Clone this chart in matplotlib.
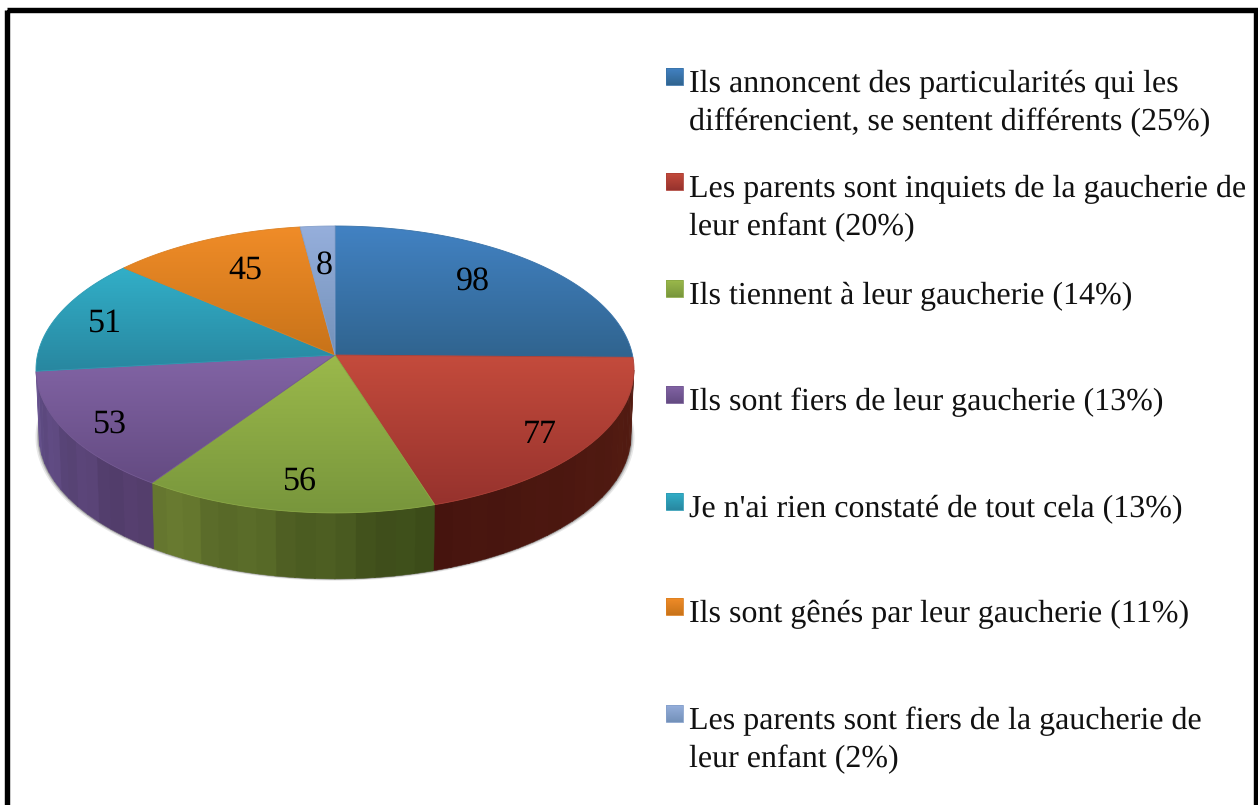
import numpy as np
import matplotlib
matplotlib.use("Agg")
import matplotlib.pyplot as plt
from matplotlib.patches import Polygon, Rectangle

plt.rcParams["text.hinting"] = "none"
plt.rcParams["text.hinting_factor"] = 1

# Valeurs du graphique
values = [98, 77, 56, 53, 51, 45, 8]
legend_labels = [
    "Ils annoncent des particularités qui les\ndifférencient, se sentent différents (25%)",
    "Les parents sont inquiets de la gaucherie de\nleur enfant (20%)",
    "Ils tiennent à leur gaucherie (14%)",
    "Ils sont fiers de leur gaucherie (13%)",
    "Je n'ai rien constaté de tout cela (13%)",
    "Ils sont gênés par leur gaucherie (11%)",
    "Les parents sont fiers de la gaucherie de\nleur enfant (2%)",
]
top_light = ["#4282c3", "#c44b3c", "#9bb94b", "#8264a5", "#32afc8", "#f08c28", "#96afdc"]
top_dark = ["#30648f", "#96322d", "#78963c", "#644b82", "#2887a0", "#c87319", "#7391b9"]
side_light = ["#30648f", "#46140e", "#6b7d32", "#64508c", "#2887a0", "#c87319", "#7391b9"]
side_dark = ["#30648f", "#541c12", "#3a4a18", "#523c69", "#2887a0", "#c87319", "#7391b9"]

# Ajustements des etiquettes (rayon relatif, decalage en degres)
label_radius = [0.755, 0.83, 0.805, 0.85, 0.835, 0.735, 0.70]
label_shift = [-5, 1.6, -0.5, -0.5, 0.4, 2.3, 0.4]

W, H = 1258, 805
APEX_X, APEX_Y = 335, 355
SX, SY, K = 297.5, 142, 0.1007
DEPTH = 66


def project(angle, r=1.0):
    # angle en degres, sens horaire depuis le haut, avec perspective
    a = np.radians(angle)
    u = r * np.sin(a)
    v = -r * np.cos(a)
    w = 1 - K * v
    return APEX_X + SX * u / w, APEX_Y + SY * v / w


def gradient_fill(ax, poly_xy, c1, c2):
    poly = Polygon(poly_xy, closed=True, facecolor="none", edgecolor="none")
    ax.add_patch(poly)
    x_min, x_max = poly_xy[:, 0].min(), poly_xy[:, 0].max()
    y0, y1 = poly_xy[:, 1].min(), poly_xy[:, 1].max()
    a = np.array(matplotlib.colors.to_rgb(c1))
    b = np.array(matplotlib.colors.to_rgb(c2))
    t = np.linspace(0, 1, 128)[:, None, None]
    img = a[None, None, :] * (1 - t) + b[None, None, :] * t
    im = ax.imshow(img, extent=(x_min, x_max, y1, y0), aspect="auto", zorder=3,
                   interpolation="bilinear")
    im.set_clip_path(poly)
    # bord fin pour lisser le detourage
    ax.add_patch(Polygon(poly_xy, closed=True, facecolor="none",
                         edgecolor=tuple((a + b) / 2), linewidth=0.6, zorder=3))


fig = plt.figure(figsize=(W / 100, H / 100), dpi=100)
ax = fig.add_axes([0, 0, 1, 1])
ax.axis("off")

total = sum(values)
edges = np.concatenate([[0], np.cumsum(values)]) / total * 360

# Ombre sous le camembert
full = np.linspace(0, 360, 361)
fx, fy = project(full)
for grow, alpha in [(3.5, 0.14), (2, 0.25), (1, 0.35)]:
    sx = APEX_X + 0.99 * (fx - APEX_X) * (1 + grow / 299)
    sy = fy + DEPTH + grow * 0.5
    ax.add_patch(Polygon(np.column_stack([sx, sy]), closed=True, facecolor="#555555",
                         edgecolor="none", alpha=alpha, zorder=1))

# Cote du camembert, bandes verticales
for i in range(len(values)):
    start, end = max(edges[i], 96), min(edges[i + 1], 263)
    if end <= start:
        continue
    steps = np.arange(start, end, 3.5)
    steps = np.append(steps, end)
    a = np.array(matplotlib.colors.to_rgb(side_light[i]))
    b = np.array(matplotlib.colors.to_rgb(side_dark[i]))
    span = end - start
    for j in range(len(steps) - 1):
        th = np.linspace(steps[j], steps[j + 1] + 0.3, 6)
        x, y = project(th)
        xb = APEX_X + 0.99 * (x - APEX_X)
        yb = y + DEPTH
        # le plus clair est a gauche (angles eleves)
        t = 1 - (steps[j] - start) / span
        col = a * (1 - t) + b * t
        amp = 0.012 if i == 1 else 0.03
        col = np.clip(col * (1 + amp * (-1) ** (j // 2)), 0, 1)
        ax.add_patch(Polygon(np.column_stack([np.r_[x, xb[::-1]], np.r_[y, yb[::-1]]]),
                             closed=True, facecolor=col, edgecolor=col, linewidth=0.3, zorder=2))

# Dessus du camembert
for i in range(len(values)):
    th = np.linspace(edges[i], edges[i + 1], 80)
    x, y = project(th)
    poly_xy = np.column_stack([np.r_[APEX_X, x], np.r_[APEX_Y, y]])
    gradient_fill(ax, poly_xy, top_light[i], top_dark[i])

# Etiquettes de valeur
for i, val in enumerate(values):
    mid = (edges[i] + edges[i + 1]) / 2 + label_shift[i]
    lx, ly = project(mid, label_radius[i])
    ax.text(lx, ly + 11.5, str(val), ha="center", va="baseline", fontsize=24.5,
            family="Liberation Serif", color="black", zorder=5)

# Legende
legend_y = [92, 197, 304, 410, 517, 622, 729]
for i, label in enumerate(legend_labels):
    y = legend_y[i]
    square = np.array([[666, y - 24], [683, y - 24], [683, y - 7], [666, y - 7]], dtype=float)
    gradient_fill(ax, square, top_light[i], top_dark[i])
    for n, line in enumerate(label.split("\n")):
        ax.text(689, y + n * 38.5, line, ha="left", va="baseline", fontsize=23,
                family="Liberation Serif", color="#111111", zorder=5)

# Cadre noir
ax.add_patch(Rectangle((6.5, 9.7), 1249, 900, facecolor="none", edgecolor="black",
                       linewidth=3.9, zorder=6))

ax.set_xlim(0, W)
ax.set_ylim(H, 0)
fig.savefig("out.png", dpi=100, facecolor="white")
plt.close(fig)
